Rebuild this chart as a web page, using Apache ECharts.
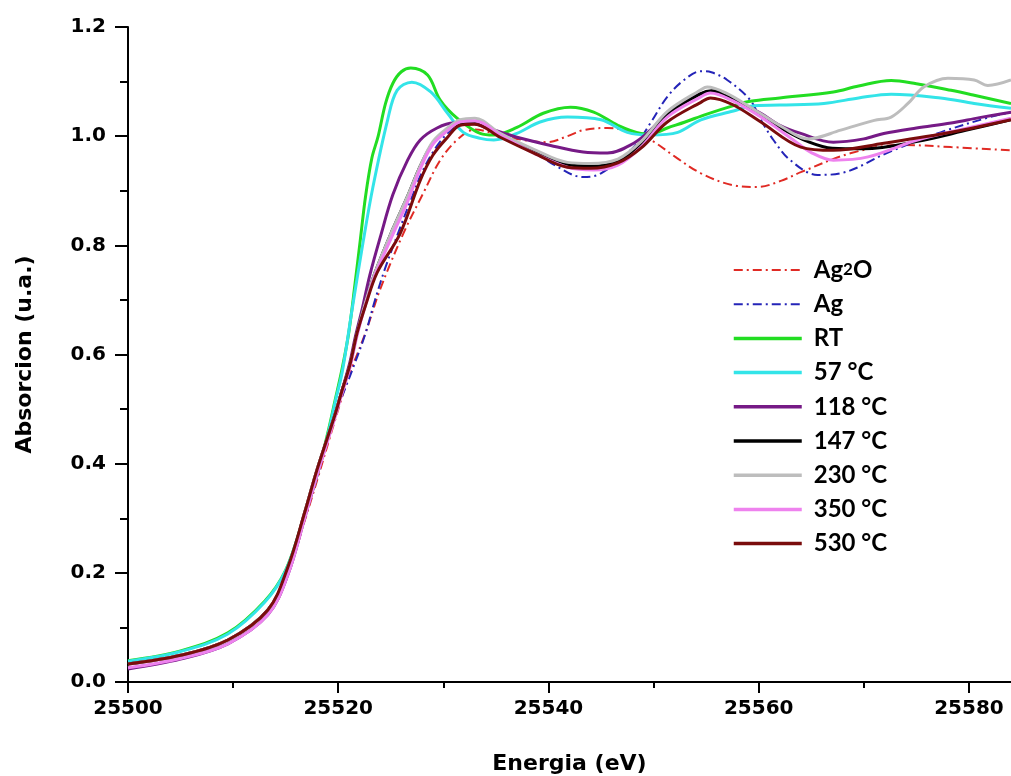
<!DOCTYPE html>
<html>
<head>
<meta charset="utf-8">
<script src="https://cdn.jsdelivr.net/npm/echarts@6/dist/echarts.min.js"></script>
<style>
html,body{margin:0;padding:0;background:#fff;}
#chart{width:1011px;height:776px;}
</style>
</head>
<body>
<div id="chart"></div>
<script>
// ---- DATA ----
const seriesNames = ['Ag2O', 'Ag', 'RT', '57 °C', '118 °C', '147 °C', '230 °C', '350 °C', '530 °C'];
const xMajorTicks = [25500, 25520, 25540, 25560, 25580];
const xMinorTicks = [25510, 25530, 25550, 25570];
const yTicks = [0.0, 0.2, 0.4, 0.6, 0.8, 1.0, 1.2];

const ag2oX = [25500, 25505, 25509.5, 25513.3, 25515.2, 25516.8, 25518, 25519.7, 25521, 25522.6, 25524, 25526.2, 25528.1, 25529.7, 25531.3, 25533, 25535, 25537, 25539.9, 25541.8, 25543.3, 25545.6, 25548.5, 25550, 25552, 25554.5, 25557.6, 25559.9, 25562.1, 25564, 25568.8, 25573.5, 25578.3, 25584];
const ag2oY = [0.033, 0.049, 0.077, 0.132, 0.2, 0.295, 0.37, 0.48, 0.56, 0.64, 0.72, 0.822, 0.896, 0.956, 0.993, 1.012, 1.004, 0.995, 0.989, 1.0, 1.011, 1.015, 1.005, 0.99, 0.963, 0.932, 0.91, 0.907, 0.918, 0.934, 0.969, 0.984, 0.98, 0.974];

const agX = [25500, 25505, 25509.5, 25513.3, 25515.2, 25516.8, 25518, 25519.7, 25520.5, 25521.5, 25522.6, 25523.5, 25524.5, 25525.9, 25526.9, 25528, 25529.5, 25531, 25532.5, 25535.4, 25538.6, 25540.5, 25543.3, 25545, 25548.1, 25549.7, 25551.3, 25552.9, 25554.5, 25555.5, 25557, 25559.2, 25560.2, 25561.4, 25563, 25565.6, 25567.8, 25572.3, 25577.3, 25582, 25584];
const agY = [0.033, 0.049, 0.077, 0.132, 0.2, 0.3, 0.38, 0.49, 0.53, 0.58, 0.639, 0.7, 0.76, 0.833, 0.883, 0.935, 0.985, 1.015, 1.028, 1.0, 0.972, 0.948, 0.925, 0.932, 0.98, 1.024, 1.072, 1.103, 1.119, 1.117, 1.103, 1.066, 1.03, 0.993, 0.956, 0.929, 0.932, 0.97, 1.007, 1.035, 1.044];

const rtX = [25500, 25505, 25509.5, 25513, 25515, 25516.7, 25518, 25519, 25519.7, 25520.4, 25521, 25521.6, 25522.1, 25522.6, 25523.2, 25523.8, 25524.5, 25525.2, 25526, 25526.9, 25528.5, 25529.7, 25531.3, 25533.5, 25534.8, 25537, 25539.5, 25542.1, 25544.3, 25546.6, 25548.8, 25549.7, 25551.3, 25553, 25555, 25557.6, 25559.2, 25562, 25567.1, 25569.5, 25572.6, 25575, 25578.3, 25580.5, 25584];
const rtY = [0.039, 0.057, 0.09, 0.148, 0.205, 0.3, 0.38, 0.456, 0.516, 0.577, 0.64, 0.73, 0.81, 0.89, 0.96, 1.0, 1.06, 1.097, 1.118, 1.125, 1.112, 1.066, 1.033, 1.005, 1.002, 1.016, 1.042, 1.053, 1.044, 1.02, 1.005, 1.004, 1.015, 1.026, 1.04, 1.056, 1.064, 1.07, 1.081, 1.092, 1.102, 1.096, 1.084, 1.075, 1.06];

const c57X = [25500, 25505, 25509.5, 25513, 25515, 25516.7, 25518, 25519, 25519.7, 25520.4, 25521.3, 25522.4, 25523.3, 25524.7, 25525.6, 25527, 25528.8, 25530.4, 25531.9, 25533.5, 25534.8, 25537, 25539.2, 25541.8, 25545, 25547.5, 25549.7, 25552.3, 25554.5, 25557.6, 25559.2, 25562, 25566.2, 25569.5, 25572.6, 25577.3, 25580.5, 25584];
const c57Y = [0.038, 0.056, 0.088, 0.146, 0.204, 0.3, 0.38, 0.452, 0.512, 0.57, 0.68, 0.81, 0.907, 1.03, 1.084, 1.099, 1.081, 1.042, 1.007, 0.996, 0.993, 1.005, 1.026, 1.035, 1.03, 1.007, 1.002, 1.007, 1.03, 1.046, 1.055, 1.057, 1.06, 1.07, 1.077, 1.07, 1.06, 1.051];

const c118X = [25500, 25505, 25509.5, 25513.3, 25515.2, 25516.8, 25518, 25519.7, 25520.3, 25521.1, 25521.6, 25522.3, 25523, 25524, 25525.2, 25526.6, 25527.8, 25529.4, 25531, 25532.5, 25534.2, 25537, 25540.2, 25543.3, 25545.6, 25548.1, 25549.7, 25551.3, 25553, 25555.4, 25557.5, 25560.2, 25562, 25564, 25567.1, 25570, 25571.9, 25575, 25578.3, 25581, 25584];
const c118Y = [0.024, 0.042, 0.07, 0.123, 0.196, 0.3, 0.38, 0.49, 0.53, 0.585, 0.63, 0.685, 0.745, 0.815, 0.893, 0.956, 0.993, 1.015, 1.024, 1.024, 1.015, 0.998, 0.983, 0.971, 0.969, 0.987, 1.011, 1.042, 1.065, 1.081, 1.068, 1.042, 1.02, 1.005, 0.989, 0.995, 1.005, 1.015, 1.024, 1.034, 1.044];

const c147X = [25500, 25505, 25509.5, 25513.3, 25515.2, 25516.8, 25518, 25519.7, 25520.3, 25521.1, 25521.8, 25522.5, 25523.5, 25525.2, 25526.6, 25527.8, 25529, 25530.4, 25531.6, 25533, 25535.4, 25538.6, 25541.8, 25544, 25546.6, 25548.8, 25551.3, 25554.5, 25555.5, 25557, 25559.2, 25562.4, 25564.7, 25567, 25570, 25575, 25580, 25584];
const c147Y = [0.033, 0.049, 0.077, 0.132, 0.205, 0.31, 0.39, 0.49, 0.53, 0.58, 0.64, 0.69, 0.75, 0.83, 0.89, 0.945, 0.987, 1.011, 1.024, 1.027, 1.003, 0.972, 0.948, 0.945, 0.954, 0.985, 1.04, 1.078, 1.083, 1.075, 1.05, 1.012, 0.99, 0.978, 0.977, 0.99, 1.012, 1.03];

const c230X = [25500, 25505, 25509.5, 25513.3, 25515.2, 25516.8, 25518, 25519.7, 25520.3, 25521.1, 25521.8, 25522.5, 25523.5, 25525.2, 25526.6, 25527.8, 25529, 25530.4, 25531.6, 25533, 25535.4, 25538.6, 25541.8, 25544, 25546.6, 25548.8, 25551.3, 25554.5, 25555.1, 25557, 25559.2, 25562.4, 25564.7, 25567.8, 25571, 25572.6, 25574.2, 25575.7, 25578, 25580.5, 25581.8, 25584];
const c230Y = [0.033, 0.049, 0.077, 0.132, 0.205, 0.31, 0.39, 0.49, 0.53, 0.58, 0.64, 0.69, 0.75, 0.83, 0.89, 0.945, 0.99, 1.015, 1.03, 1.033, 1.005, 0.976, 0.952, 0.95, 0.958, 0.99, 1.045, 1.085, 1.09, 1.078, 1.053, 1.015, 0.995, 1.011, 1.029, 1.035, 1.06, 1.09, 1.106, 1.103, 1.093, 1.103];

const c350X = [25500, 25505, 25509.5, 25513.3, 25515.2, 25516.8, 25518, 25519.7, 25520.3, 25521.1, 25521.8, 25522.5, 25523.5, 25525.2, 25526.6, 25527.8, 25529, 25530.4, 25531.6, 25533, 25535.4, 25538.6, 25541.8, 25544.3, 25546.6, 25548.8, 25551.3, 25554.5, 25555.4, 25557.5, 25560.2, 25563.3, 25565, 25567.1, 25570.4, 25575.1, 25579.9, 25584];
const c350Y = [0.026, 0.043, 0.07, 0.123, 0.196, 0.3, 0.38, 0.485, 0.525, 0.575, 0.635, 0.685, 0.745, 0.82, 0.88, 0.94, 0.985, 1.01, 1.026, 1.028, 1.002, 0.969, 0.943, 0.938, 0.947, 0.98, 1.035, 1.072, 1.079, 1.065, 1.035, 0.993, 0.97, 0.956, 0.962, 0.993, 1.015, 1.033];

const c530X = [25500, 25505, 25509.5, 25513.3, 25515.2, 25516.8, 25518, 25519.7, 25520.3, 25521.1, 25521.8, 25522.6, 25523.7, 25525.9, 25527.8, 25529, 25530.4, 25531.6, 25533, 25535.4, 25538.6, 25541.8, 25544, 25546.6, 25548.8, 25551.3, 25554.5, 25555.4, 25557.5, 25560.2, 25564, 25567.1, 25571.9, 25578.3, 25584];
const c530Y = [0.033, 0.049, 0.077, 0.132, 0.21, 0.31, 0.39, 0.49, 0.53, 0.58, 0.64, 0.69, 0.75, 0.822, 0.919, 0.965, 0.998, 1.02, 1.022, 0.998, 0.969, 0.943, 0.941, 0.951, 0.978, 1.026, 1.062, 1.07, 1.058, 1.026, 0.98, 0.974, 0.987, 1.007, 1.03];

// ---- STYLE ----
const seriesX = [ag2oX, agX, rtX, c57X, c118X, c147X, c230X, c350X, c530X];
const seriesY = [ag2oY, agY, rtY, c57Y, c118Y, c147Y, c230Y, c350Y, c530Y];
const colors = ['#e02a24', '#2424b8', '#22dd22', '#33e4e8', '#761a86', '#000000', '#bdbdbd', '#ee82ee', '#7a0c0c'];
const dashDot = [9, 4, 2, 4];

const chart = echarts.init(document.getElementById('chart'));
const tickFont = { fontFamily: 'DejaVu Sans', fontWeight: 'bold', fontSize: 20, color: '#000' };

const series = seriesNames.map((name, i) => ({
  name: name,
  type: 'line',
  xAxisIndex: 0,
  yAxisIndex: 0,
  showSymbol: false,
  symbol: 'none',
  smooth: 0.35,
  clip: true,
  color: colors[i],
  lineStyle: { color: colors[i], width: i < 2 ? 2 : 3, type: i < 2 ? dashDot : 'solid' },
  data: seriesX[i].map((x, j) => [x, seriesY[i][j]])
}));

const legendData = seriesNames.map((n, i) => ({
  name: n,
  itemStyle: { opacity: 0 },
  lineStyle: { color: colors[i], width: i < 2 ? 2 : 3.5, type: i < 2 ? dashDot : 'solid' }
}));

chart.setOption({
  animation: false,
  backgroundColor: '#fff',
  grid: { left: 128, right: 0, top: 27, bottom: 94, containLabel: false, outerBoundsMode: 'none' },
  legend: {
    orient: 'vertical',
    left: 732,
    top: 258,
    padding: 0,
    itemWidth: 68,
    itemHeight: 6,
    itemGap: 10.2,
    data: legendData,
    formatter: function (n) { return n === 'Ag2O' ? 'Ag{sub|2}O' : n; },
    textStyle: {
      fontFamily: 'Lato', fontWeight: 'bold', fontSize: 24, color: '#000', lineHeight: 24, padding: [0, 0, 0, 7],
      rich: { sub: { fontFamily: 'Lato', fontWeight: 'bold', fontSize: 17, color: '#000', lineHeight: 24 } }
    }
  },
  xAxis: [
    {
      type: 'value', min: 25500, max: 25584, interval: 20,
      position: 'bottom',
      axisLine: { show: true, onZero: false, lineStyle: { color: '#000', width: 2 } },
      axisTick: { show: true, length: 11, customValues: xMajorTicks, lineStyle: { color: '#000', width: 2 } },
      minorTick: { show: false },
      splitLine: { show: false },
      axisLabel: Object.assign({ margin: 17, customValues: xMajorTicks, formatter: v => String(v) }, tickFont),
      name: 'Energia (eV)', nameLocation: 'middle', nameGap: 71,
      nameTextStyle: { fontFamily: 'DejaVu Sans', fontWeight: 'bold', fontSize: 22, color: '#000' }
    },
    {
      type: 'value', min: 25500, max: 25584, interval: 20,
      position: 'bottom',
      axisLine: { show: false },
      axisTick: { show: true, length: 6, customValues: xMinorTicks, lineStyle: { color: '#000', width: 2 } },
      splitLine: { show: false },
      axisLabel: { show: false }
    }
  ],
  yAxis: {
    type: 'value', min: 0, max: 1.2, interval: 0.2,
    axisLine: { show: true, onZero: false, lineStyle: { color: '#000', width: 2 } },
    axisTick: { show: true, length: 13, lineStyle: { color: '#000', width: 2 } },
    minorTick: { show: true, splitNumber: 2, length: 8, lineStyle: { color: '#000', width: 2 } },
    splitLine: { show: false },
    minorSplitLine: { show: false },
    axisLabel: Object.assign({ margin: 22, customValues: yTicks, formatter: v => v.toFixed(1) }, tickFont),
    name: 'Absorcion (u.a.)', nameLocation: 'middle', nameGap: 92,
    nameTextStyle: { fontFamily: 'DejaVu Sans', fontWeight: 'bold', fontSize: 22, color: '#000' }
  },
  series: series
});
</script>
</body>
</html>
